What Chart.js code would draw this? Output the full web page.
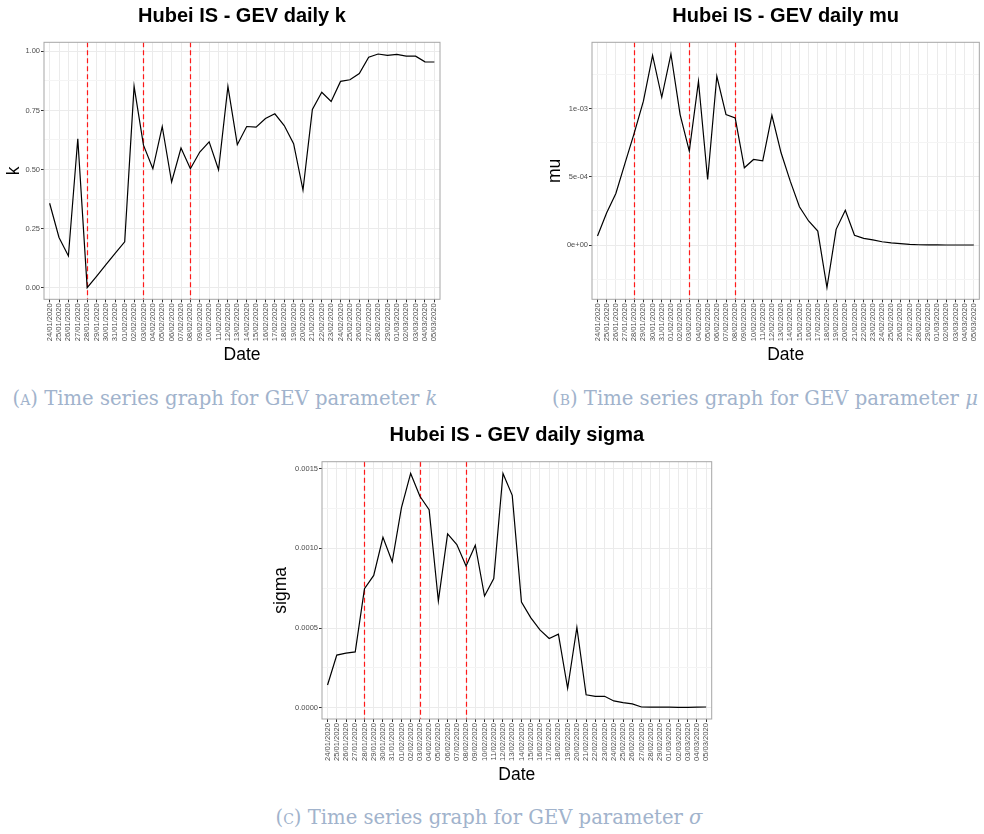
<!DOCTYPE html>
<html>
<head>
<meta charset="utf-8">
<script src="https://cdn.jsdelivr.net/npm/chart.js@4.4.1/dist/chart.umd.min.js"></script>
<style>
  body { margin: 0; background: #fff; width: 984px; height: 834px; position: relative; overflow: hidden; }
  canvas { position: absolute; }
  .cap { position: absolute; width: 600px; text-align: center; font-family: 'DejaVu Serif', serif;
         font-size: 19.6px; line-height: 24px; color: #a1b3cc; white-space: nowrap; }
  .sc { font-variant: small-caps; }
</style>
</head>
<body>
<canvas id="kChart" width="470" height="372" style="left:0;top:0"></canvas>
<canvas id="muChart" width="444" height="372" style="left:540px;top:0"></canvas>
<canvas id="sigmaChart" width="460" height="380" style="left:270px;top:415px"></canvas>
<div class="cap" style="left:-75px;top:387px"><span class="sc">(a)</span> Time series graph for GEV parameter <i>k</i></div>
<div class="cap" style="left:465px;top:387px"><span class="sc">(b)</span> Time series graph for GEV parameter <i>μ</i></div>
<div class="cap" style="left:189px;top:806px"><span class="sc">(c)</span> Time series graph for GEV parameter <i>σ</i></div>
<script>
// ── Chart.js defaults ──────────────────────────────────────────────────────
Chart.defaults.font.family = "'Liberation Sans', Arial, sans-serif";
Chart.defaults.color = '#4d4d4d';
Chart.defaults.animation = false;
Chart.defaults.plugins.legend.display = false;
Chart.defaults.plugins.tooltip.enabled = false;

// ── Data ───────────────────────────────────────────────────────────────────
const dates = [
  '24/01/2020','25/01/2020','26/01/2020','27/01/2020','28/01/2020','29/01/2020','30/01/2020','31/01/2020',
  '01/02/2020','02/02/2020','03/02/2020','04/02/2020','05/02/2020','06/02/2020','07/02/2020','08/02/2020',
  '09/02/2020','10/02/2020','11/02/2020','12/02/2020','13/02/2020','14/02/2020','15/02/2020','16/02/2020',
  '17/02/2020','18/02/2020','19/02/2020','20/02/2020','21/02/2020','22/02/2020','23/02/2020','24/02/2020',
  '25/02/2020','26/02/2020','27/02/2020','28/02/2020','29/02/2020','01/03/2020','02/03/2020','03/03/2020',
  '04/03/2020','05/03/2020'
];
const eventDates = ['28/01/2020', '03/02/2020', '08/02/2020'];

const kValues = [
  0.357, 0.212, 0.134, 0.630, 0.000, 0.048, 0.097, 0.146, 0.194, 0.852,
  0.603, 0.503, 0.682, 0.447, 0.591, 0.503, 0.574, 0.617, 0.499, 0.852,
  0.605, 0.682, 0.679, 0.716, 0.736, 0.686, 0.609, 0.413, 0.754, 0.827,
  0.788, 0.873, 0.880, 0.906, 0.975, 0.989, 0.983, 0.987, 0.980, 0.980,
  0.956, 0.955
];
const muValues = [
  0.000066, 0.000237, 0.000378, 0.000600, 0.000820, 0.001054, 0.001390, 0.001083, 0.001400, 0.000956,
  0.000688, 0.001200, 0.000480, 0.001237, 0.000956, 0.000932, 0.000566, 0.000627, 0.000617, 0.000951,
  0.000676, 0.000468, 0.000280, 0.000176, 0.000102, -0.000312, 0.000115, 0.000254, 0.000071, 0.000049,
  0.000037, 0.000024, 0.000015, 0.000010, 0.000005, 0.000002, 0.000001, 0.000001, 0.000000, 0.000000,
  0.000000, 0.000000
];
const sigmaValues = [
  0.000142, 0.000330, 0.000342, 0.000350, 0.000747, 0.000830, 0.001070, 0.000916, 0.001254, 0.001471,
  0.001327, 0.001243, 0.000670, 0.001091, 0.001024, 0.000889, 0.001020, 0.000701, 0.000810, 0.001471,
  0.001333, 0.000663, 0.000565, 0.000488, 0.000434, 0.000461, 0.000121, 0.000503, 0.000081, 0.000071,
  0.000071, 0.000042, 0.000031, 0.000023, 0.000004, 0.000003, 0.000004, 0.000003, 0.000002, 0.000002,
  0.000003, 0.000004
];

// tick values / labels (minor ticks only get a faint grid line)
const kTicks = [0, 0.25, 0.5, 0.75, 1];
const kTickLabels = ['0.00', '0.25', '0.50', '0.75', '1.00'];
const kMinorTicks = [0.125, 0.375, 0.625, 0.875];
const muTicks = [0, 0.0005, 0.001];
const muTickLabels = ['0e+00', '5e-04', '1e-03'];
const muMinorTicks = [-0.00025, 0.00025, 0.00075, 0.00125];
const sigmaTicks = [0, 0.0005, 0.001, 0.0015];
const sigmaTickLabels = ['0.0000', '0.0005', '0.0010', '0.0015'];
const sigmaMinorTicks = [0.00025, 0.00075, 0.00125];

// ── Panel border + dashed event lines ──────────────────────────────────────
const panelPlugin = {
  id: 'panel',
  beforeDatasetsDraw(chart) {
    const { ctx, chartArea: a, scales: { x } } = chart;
    ctx.save();
    ctx.strokeStyle = '#ff1a1a';
    ctx.lineWidth = 1.2;
    ctx.setLineDash([5, 3]);
    eventDates.forEach(d => {
      const px = Math.round(x.getPixelForValue(dates.indexOf(d))) + 0.5;
      ctx.beginPath();
      ctx.moveTo(px, a.top);
      ctx.lineTo(px, a.bottom);
      ctx.stroke();
    });
    ctx.restore();
  },
  afterDraw(chart) {
    const { ctx, chartArea: a } = chart;
    ctx.save();
    ctx.strokeStyle = '#a6a6a6';
    ctx.lineWidth = 1;
    ctx.strokeRect(a.left, a.top, a.right - a.left, a.bottom - a.top);
    ctx.restore();
  }
};

// ── One ggplot-like panel ──────────────────────────────────────────────────
function gevChart(id, o) {
  const isMajor = v => o.major.includes(v);
  new Chart(document.getElementById(id), {
    type: 'line',
    data: {
      datasets: [{
        data: o.values.map((v, i) => ({ x: i, y: v })),
        borderColor: '#000', borderWidth: 1.2, pointRadius: 0, tension: 0, fill: false
      }]
    },
    options: {
      responsive: false,
      layout: { padding: { left: 0, top: 0, right: o.padRight, bottom: 0 } },
      plugins: {
        title: {
          display: true, text: o.title, fullSize: false, color: '#000',
          font: { size: 20, weight: 'bold' }, padding: o.titlePad
        }
      },
      scales: {
        x: {
          type: 'linear', min: -0.6, max: dates.length - 0.4,
          afterBuildTicks: s => { s.ticks = dates.map((d, i) => ({ value: i })); },
          afterFit: s => { s.height = o.xHeight; },
          ticks: {
            autoSkip: false, minRotation: 90, maxRotation: 90, padding: 1,
            font: { size: 7.6 }, callback: v => dates[v]
          },
          grid: { color: '#ebebeb', tickColor: '#333', tickLength: 3 },
          border: { display: false },
          title: {
            display: true, text: 'Date', color: '#000', font: { size: 17.5 },
            padding: { top: 0, bottom: o.datePad }
          }
        },
        y: {
          min: o.min, max: o.max,
          afterBuildTicks: s => { s.ticks = o.major.concat(o.minor).map(v => ({ value: v })); },
          afterFit: s => { s.width = o.yWidth; },
          ticks: {
            autoSkip: false, padding: 1, font: { size: 7.5 },
            callback: v => isMajor(v) ? o.labels[o.major.indexOf(v)] : ''
          },
          grid: {
            color: c => isMajor(c.tick.value) ? '#ebebeb' : '#f4f4f4',
            tickColor: c => isMajor(c.tick.value) ? '#333' : 'rgba(0,0,0,0)',
            tickLength: 3
          },
          border: { display: false },
          title: {
            display: true, text: o.yTitle, color: '#000', font: { size: 17.5 },
            padding: { top: o.yTitlePad, bottom: 0 }
          }
        }
      }
    },
    plugins: [panelPlugin]
  });
}

// ── Charts ─────────────────────────────────────────────────────────────────
gevChart('kChart', {
  title: 'Hubei IS - GEV daily k', yTitle: 'k', values: kValues,
  min: -0.0495, max: 1.0385, major: kTicks, minor: kMinorTicks, labels: kTickLabels,
  padRight: 30, yWidth: 44, yTitlePad: 3.5, xHeight: 72.7, datePad: 6.2,
  titlePad: { top: 4.5, bottom: 13.8 }
});

gevChart('muChart', {
  title: 'Hubei IS - GEV daily mu', yTitle: 'mu', values: muValues,
  min: -0.000398, max: 0.001486, major: muTicks, minor: muMinorTicks, labels: muTickLabels,
  padRight: 4, yWidth: 52, yTitlePad: 5.1, xHeight: 72.7, datePad: 6.2,
  titlePad: { top: 4.5, bottom: 13.8 }
});

gevChart('sigmaChart', {
  title: 'Hubei IS - GEV daily sigma', yTitle: 'sigma', values: sigmaValues,
  min: -0.0000715, max: 0.0015445, major: sigmaTicks, minor: sigmaMinorTicks, labels: sigmaTickLabels,
  padRight: 18.3, yWidth: 52, yTitlePad: 0.4, xHeight: 76, datePad: 9.5,
  titlePad: { top: 8.7, bottom: 14 }
});
</script>
</body>
</html>
